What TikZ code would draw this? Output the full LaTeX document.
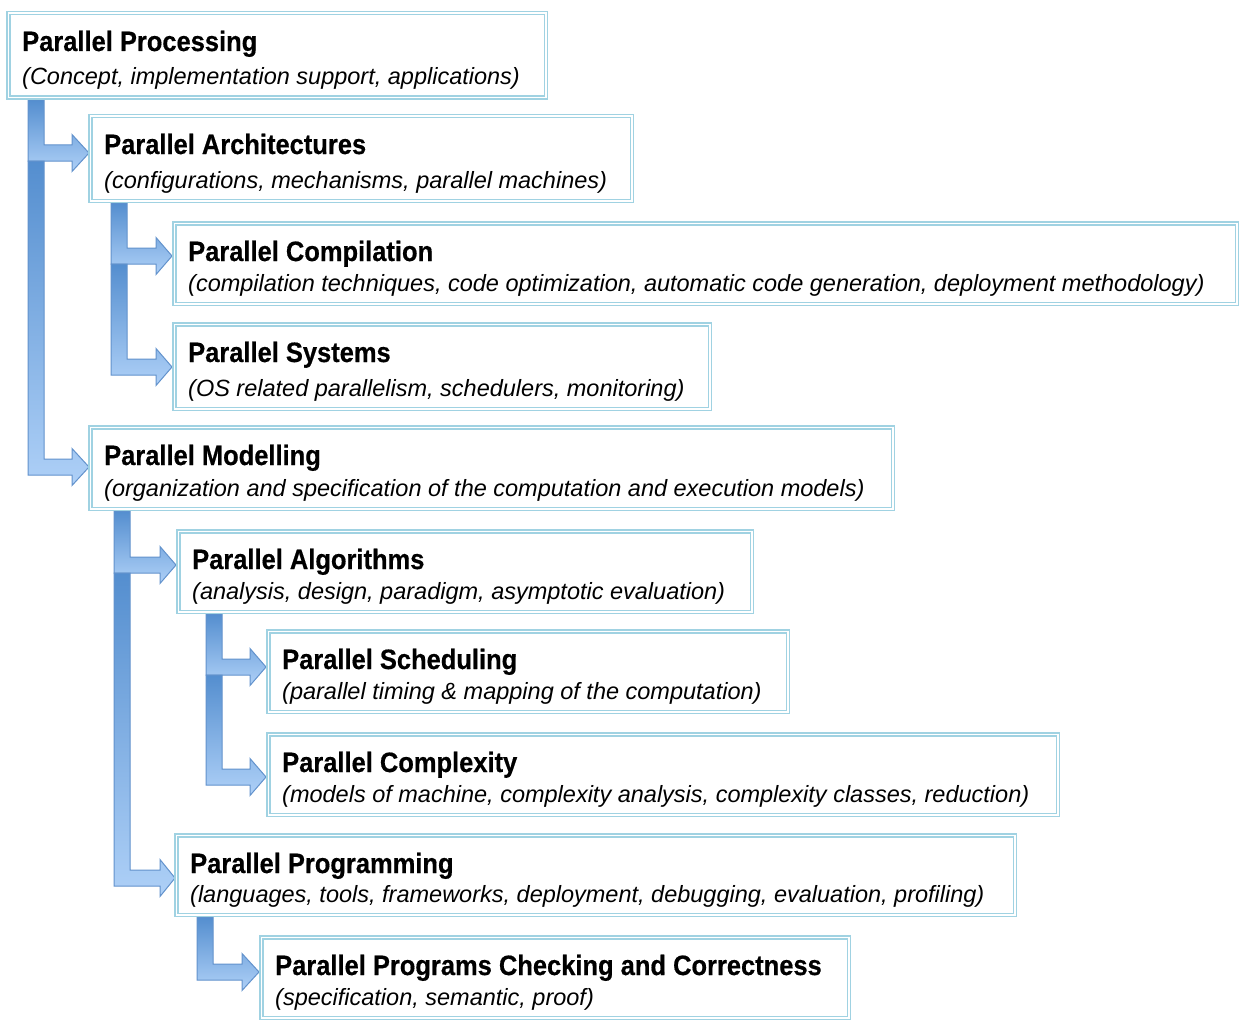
\documentclass[tikz,border=0pt]{standalone}
\usepackage{fontspec}
\setmainfont{Liberation Sans}
\newfontfamily\titlefont[FakeStretch=0.91,FakeBold=0.5]{Liberation Sans}
\definecolor{boxline}{RGB}{160,210,226}
\definecolor{arrtop}{RGB}{84,142,207}
\definecolor{arrbot}{RGB}{174,208,247}
\definecolor{arrline}{RGB}{98,146,204}
\tikzset{
  box/.style={draw=boxline, double=white, double distance=1.5pt, line width=1.5pt,
    anchor=north west, inner sep=0pt, outer sep=0pt},
  ttl/.style={anchor=base west, inner sep=0pt, font=\titlefont\bfseries\fontsize{28}{30}\selectfont},
  sub/.style={anchor=base west, inner sep=0pt, font=\fontsize{23.5}{26}\selectfont\itshape},
  barrow/.style={draw=arrline, line width=1pt, top color=arrtop, bottom color=arrbot, line join=miter}
}
% name, left, top, right, bottom (outer edges), title, subtitle
\newcommand\mkbox[7]{%
  \node[box, minimum width=#4pt-#2pt-4.5pt, minimum height=#5pt-#3pt-4.5pt] (#1) at (#2+2.25,#3+2.25) {};
  \node[ttl] (#1-t) at (#2+16,#3+40) {#6};
  \node[sub] (#1-s) at (#2+16,#5-15) {#7};}
% shaft left x, top y, arm centre y, head base x, tip x
\newcommand\bentarrow[5]{%
  \draw[barrow] (#1,#2) -- (#1+16,#2) -- (#1+16,#3-8) -- (#4,#3-8) -- (#4,#3-18.5)
    -- (#5,#3) -- (#4,#3+18.5) -- (#4,#3+8) -- (#1,#3+8) -- cycle;}
\begin{document}
\begin{tikzpicture}[x=1pt,y=-1pt]
\fill[white] (0,0) rectangle (1250,1030);
\useasboundingbox (0,0) rectangle (1250,1030);
% arrows
\bentarrow{28}{100}{153}{72}{89}
\bentarrow{28}{161}{467}{72}{89}
\bentarrow{111}{203}{256}{156}{172}
\bentarrow{111}{264}{367}{156}{172}
\bentarrow{114}{511}{565}{160}{176}
\bentarrow{114}{573}{878}{160}{175}
\bentarrow{206}{614}{667}{250}{266}
\bentarrow{206}{675}{777}{250}{266}
\bentarrow{197}{917}{972}{242}{259}
% boxes
\mkbox{pp}{6}{11}{548}{100}{Parallel Processing}{(Concept, implementation support, applications)}
\mkbox{pa}{88}{114}{634}{203}{Parallel Architectures}{(configurations, mechanisms, parallel machines)}
\mkbox{pc}{172}{221}{1239}{306}{Parallel Compilation}{(compilation techniques, code optimization, automatic code generation, deployment methodology)}
\mkbox{ps}{172}{322}{712}{411}{Parallel Systems}{(OS related parallelism, schedulers, monitoring)}
\mkbox{pm}{88}{425}{895}{511}{Parallel Modelling}{(organization and specification of the computation and execution models)}
\mkbox{palg}{176}{529}{754}{614}{Parallel Algorithms}{(analysis, design, paradigm, asymptotic evaluation)}
\mkbox{psch}{266}{629}{790}{714}{Parallel Scheduling}{(parallel timing \& mapping of the computation)}
\mkbox{pcx}{266}{732}{1060}{817}{Parallel Complexity}{(models of machine, complexity analysis, complexity classes, reduction)}
\mkbox{pprog}{174}{833}{1017}{917}{Parallel Programming}{(languages, tools, frameworks, deployment, debugging, evaluation, profiling)}
\mkbox{ppcc}{259}{935}{851}{1020}{Parallel Programs Checking and Correctness}{(specification, semantic, proof)}
\end{tikzpicture}
\end{document}
